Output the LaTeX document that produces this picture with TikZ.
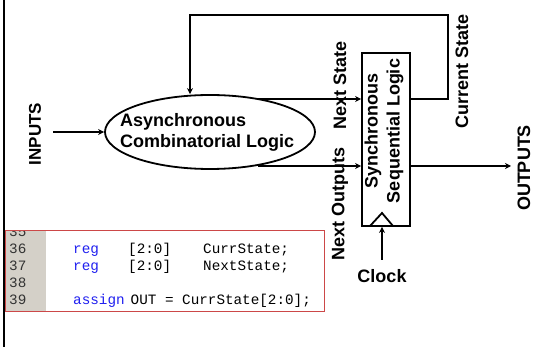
\documentclass[tikz,border=0pt]{standalone}
\usepackage{fontspec}
\setmainfont{Liberation Sans}
\newfontfamily\codefont{Liberation Mono}
\usetikzlibrary{shapes.geometric,arrows.meta}

\definecolor{kwblue}{RGB}{32,32,240}
\definecolor{guttergray}{RGB}{212,208,200}
\definecolor{framered}{RGB}{204,72,72}

\begin{document}
\begin{tikzpicture}[x=1pt,y=-1pt,
  wire/.style={line width=1.8pt},
  arr/.style={wire,-{Stealth[length=6pt,width=6pt]}},
  lbl/.style={font=\fontsize{18}{22}\selectfont\bfseries, inner sep=0pt},
  vlbl/.style={lbl, rotate=90},
  code/.style={font=\codefont\fontsize{14.3}{17}\selectfont, anchor=base west, inner sep=0pt},
  kw/.style={code, text=kwblue},
  lineno/.style={code, text=black!80}]

\useasboundingbox (0,0) rectangle (560,347);
\fill[white] (0,0) rectangle (560,347);

% left page edge
\draw[line width=2pt] (3.7,0) -- (3.7,347);

% combinational block
\node[draw, wire, ellipse, minimum width=210, minimum height=74, inner sep=0pt] (comb) at (210,132) {};
\node[lbl, anchor=base west] (combA) at (120,127) {Asynchronous};
\node[lbl, anchor=base west] (combB) at (120,148) {Combinatorial Logic};

% sequential block
\node[draw, wire, rectangle, minimum width=48, minimum height=173, inner sep=0pt] (seq) at (386,139.5) {};
\node[lbl, rotate=90, align=center] (seqtxt) at (384,131) {Synchronous\\Sequential Logic};
\coordinate (ckL) at (370,226);
\coordinate (ckT) at (382,213);
\coordinate (ckR) at (393,226);
\draw[wire, line join=miter] (ckL) -- (ckT) -- (ckR);

% signal points
\coordinate (inp) at (53,132);
\coordinate (ns) at (258,99);
\coordinate (no) at (258,166);
\coordinate (csR) at (448,99);
\coordinate (csTR) at (448,15);
\coordinate (csTL) at (190,15);
\coordinate (outp) at (511,166);
\coordinate (clk) at (382,260);

% connectors
\draw[arr] (inp) -- (comb.west);
\draw[arr] (ns) -- (ns -| seq.west);
\draw[arr] (no) -- (no -| seq.west);
\draw[arr] (seq.east |- csR) -- (csR) -- (csTR) -- (csTL) -- (csTL |- comb.north);
\draw[arr] (seq.east |- outp) -- (outp);
\draw[arr] (clk) -- (clk |- seq.south);

% labels
\node[vlbl, font=\fontsize{17}{20}\selectfont\bfseries] (linputs) at (35,134) {INPUTS};
\node[vlbl] (lns) at (340,85) {Next State};
\node[vlbl] (lno) at (340,204) {Next Outputs};
\node[vlbl] (lcs) at (462,71) {Current State};
\node[vlbl] (louts) at (524,168) {OUTPUTS};
\node[lbl] (lclk) at (382,276) {Clock};

% code listing
\begin{scope}
  \clip (5,231) rectangle (324,312);
  \fill[guttergray] (5,231) rectangle (46,312);
  \node[lineno] (n35) at (9,237) {35};
\end{scope}
\node[lineno] (n36) at (9,254) {36};
\node[lineno] (n37) at (9,271) {37};
\node[lineno] (n38) at (9,288) {38};
\node[lineno] (n39) at (9,305) {39};

\node[kw] (k36) at (73,254) {reg};
\node[code] (r36) at (128,254) {[2:0]};
\node[code] (v36) at (203,254) {CurrState;};
\node[kw] (k37) at (73,271) {reg};
\node[code] (r37) at (128,271) {[2:0]};
\node[code] (v37) at (203,271) {NextState;};
\node[kw] (k39) at (73,305) {assign};
\node[code] (a39) at (130.5,305) {OUT = CurrState[2:0];};

\draw[framered, line width=1pt] (5,230.5) rectangle (324,312);

\end{tikzpicture}
\end{document}
